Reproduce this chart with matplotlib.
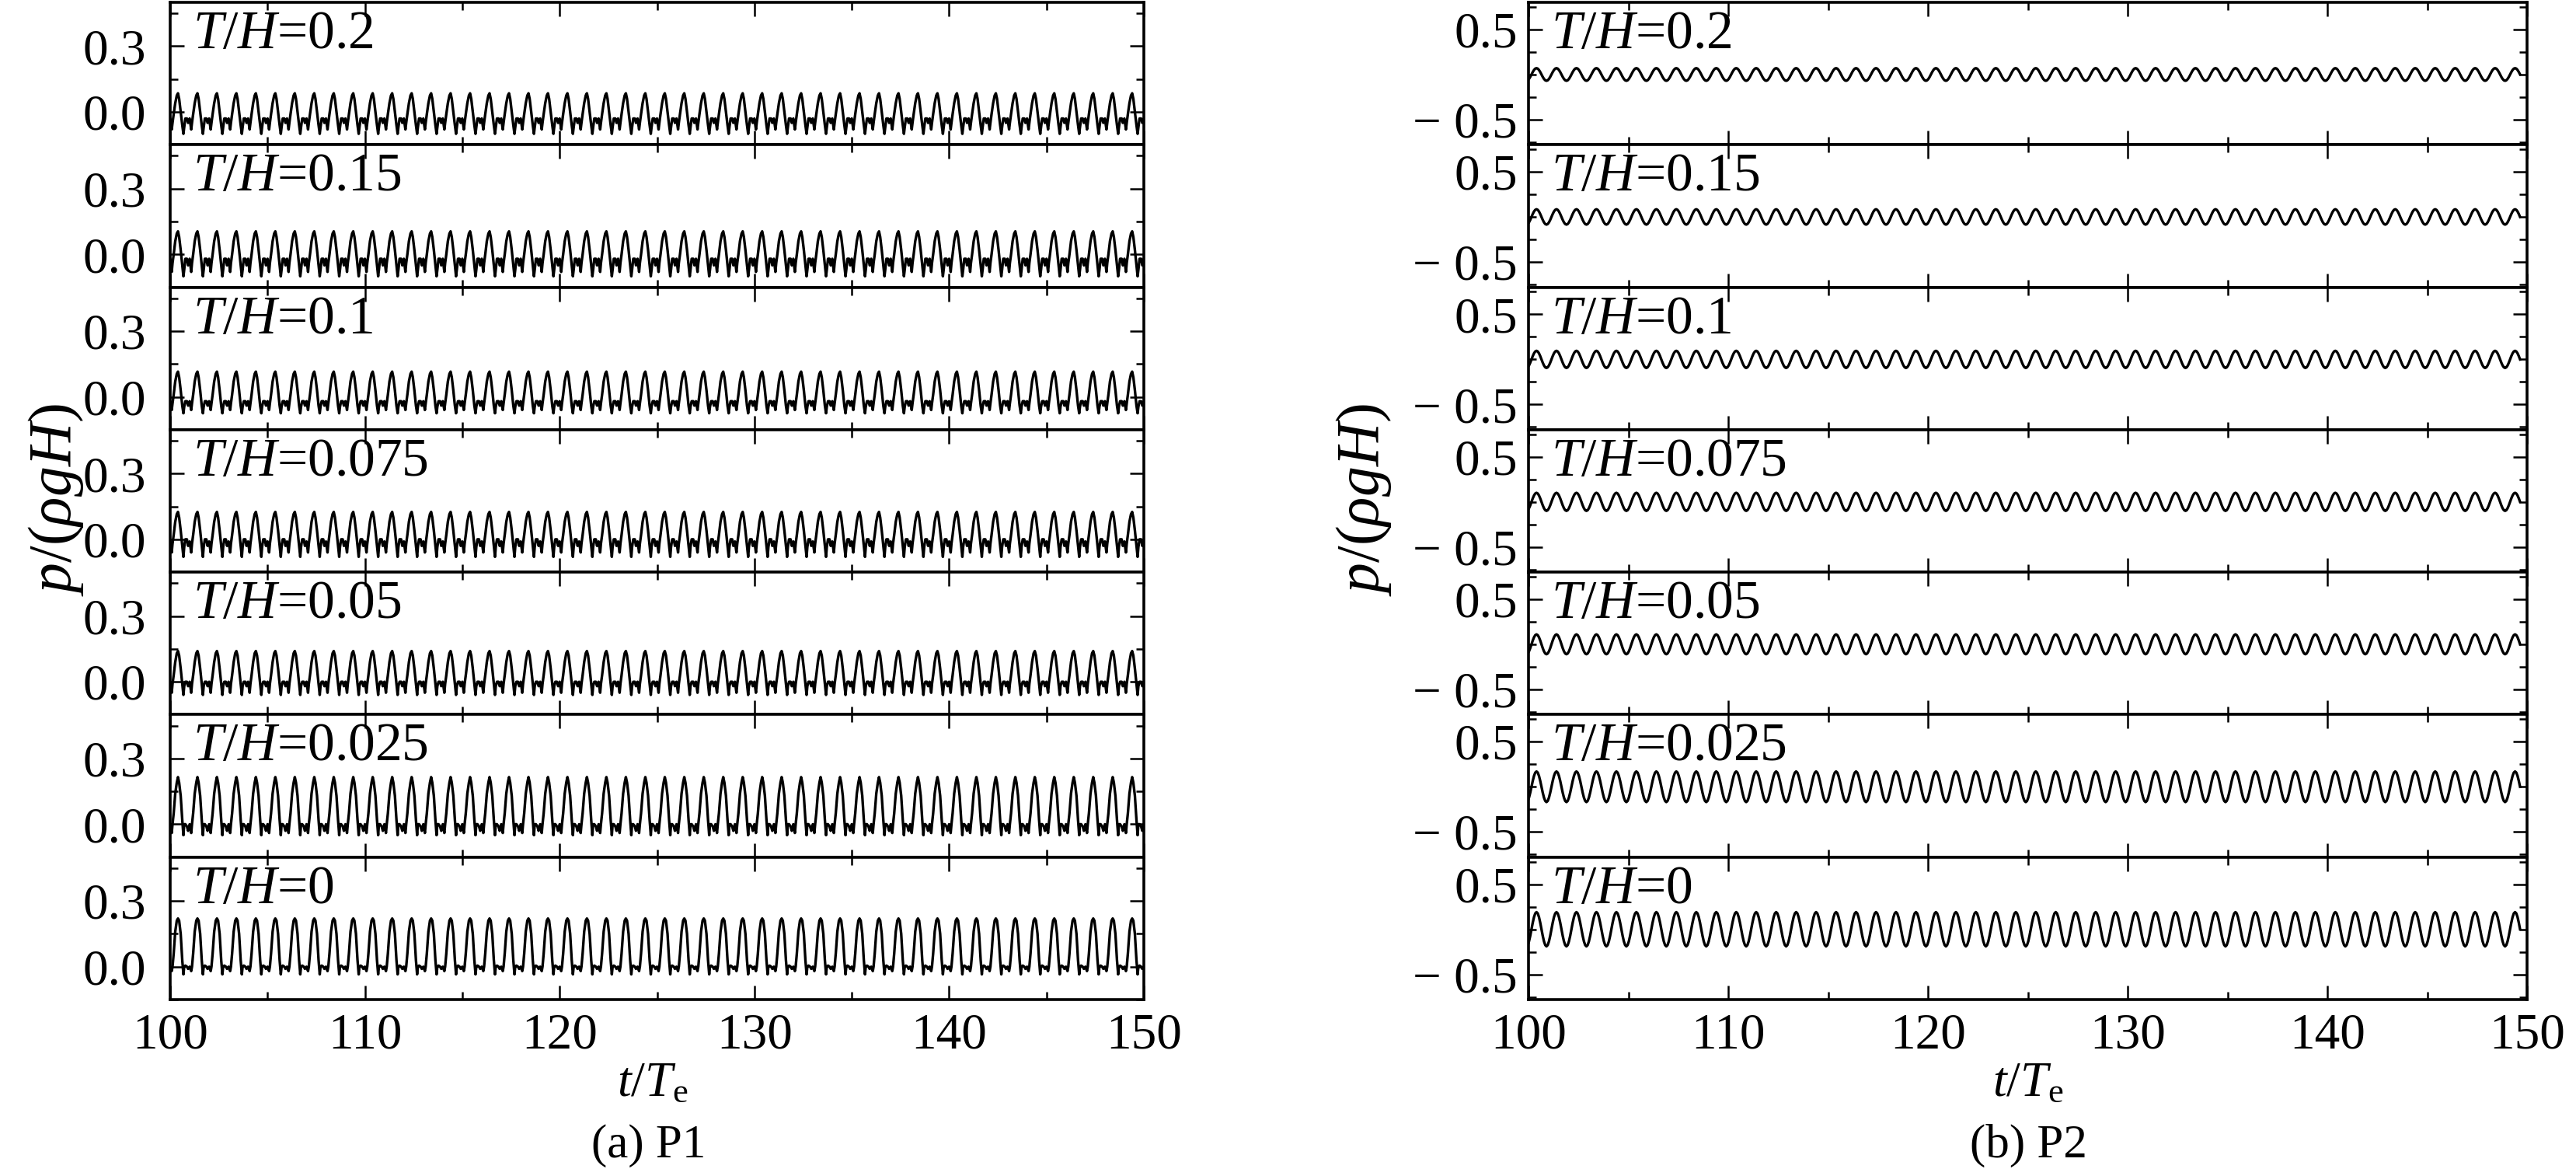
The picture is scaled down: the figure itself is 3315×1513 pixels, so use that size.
import matplotlib
matplotlib.use('Agg')
import matplotlib.pyplot as plt
import numpy as np

plt.rcParams['font.family'] = ['Liberation Serif', 'DejaVu Serif']
plt.rcParams['mathtext.fontset'] = 'custom'
plt.rcParams['mathtext.rm'] = 'Liberation Serif'
plt.rcParams['mathtext.it'] = 'Liberation Serif:italic'

# T/H cases, top to bottom
cases = ['0.2', '0.15', '0.1', '0.075', '0.05', '0.025', '0']

# P1: one period of the pressure trace (t/Te phase, p/(rho g H))
p1_phase = [0.00, 0.08, 0.12, 0.18, 0.26, 0.34, 0.40, 0.46, 0.54, 0.62, 0.68, 0.72, 0.78, 0.86, 0.92]
p1_cycle = {
    '0.2':   [-0.03, -0.08, -0.05, -0.01, 0.04, 0.075, 0.085, 0.06, 0.00, -0.06, -0.10, -0.07, -0.03, -0.03, -0.05],
    '0.15':  [-0.02, -0.08, -0.04, 0.00, 0.06, 0.095, 0.105, 0.08, 0.02, -0.05, -0.10, -0.07, -0.02, -0.02, -0.05],
    '0.1':   [-0.02, -0.06, -0.03, 0.01, 0.07, 0.105, 0.115, 0.09, 0.03, -0.04, -0.075, -0.045, -0.02, -0.02, -0.04],
    '0.075': [-0.01, -0.06, -0.02, 0.02, 0.08, 0.115, 0.125, 0.10, 0.04, -0.03, -0.08, -0.035, 0.00, 0.00, -0.03],
    '0.05':  [0.00, -0.05, -0.01, 0.03, 0.09, 0.13, 0.14, 0.12, 0.06, -0.01, -0.06, -0.02, 0.00, 0.00, -0.02],
    '0.025': [0.00, -0.04, 0.00, 0.05, 0.14, 0.19, 0.215, 0.19, 0.13, 0.02, -0.05, 0.00, 0.00, -0.01, -0.03],
    '0':     [0.00, -0.02, 0.00, 0.06, 0.16, 0.21, 0.22, 0.21, 0.15, 0.03, -0.035, 0.00, 0.005, 0.00, -0.01],
}

# P2: near-sinusoidal trace, one period shape and amplitude per case
p2_phase = [i / 16 for i in range(16)]
p2_shape = [0, 0.383, 0.707, 0.924, 1, 0.924, 0.707, 0.383, 0, -0.383, -0.707, -0.924, -1, -0.924, -0.707, -0.383]
p2_amp = {'0.2': 0.07, '0.15': 0.085, '0.1': 0.095, '0.075': 0.10, '0.05': 0.11, '0.025': 0.17, '0': 0.19}

t_start = 100
t_end = 150
p2_end = 149.7

W, H = 3316, 1513
fig = plt.figure(figsize=(W / 100, H / 100), dpi=100)

top_px = 3
bot_px = 1286
h_px = (bot_px - top_px) / 7
panels = [(219, 1253, 'P1'), (1967, 1285, 'P2')]

for x0, w, name in panels:
    for i, c in enumerate(cases):
        y_top = top_px + i * h_px
        ax = fig.add_axes([x0 / W, 1 - (y_top + h_px) / H, w / W, h_px / H])
        t = []
        v = []
        if name == 'P1':
            for k in range(t_start - 1, t_end + 1):
                for ph, val in zip(p1_phase, p1_cycle[c]):
                    t.append(k + ph)
                    v.append(val)
        else:
            for k in range(t_start - 1, t_end + 1):
                for ph, s in zip(p2_phase, p2_shape):
                    tt = k + ph + 0.15
                    if tt <= p2_end:
                        t.append(tt)
                        v.append(p2_amp[c] * s)
        ax.plot(t, v, color='black', lw=2.4)
        ax.set_xlim(t_start, t_end)
        if name == 'P1':
            ax.set_ylim(-0.15, 0.5)
            ax.set_yticks([0.0, 0.3])
            ax.set_yticklabels(['0.0', '0.3'])
            ax.set_yticks([-0.15, 0.15, 0.45], minor=True)
            ypad = 22
        else:
            ax.set_ylim(-0.78, 0.8)
            ax.set_yticks([-0.5, 0.5])
            ax.set_yticklabels(['\u2212 0.5', '0.5'])
            ax.set_yticks([-0.75, -0.25, 0, 0.25, 0.75], minor=True)
            ypad = 10
        ax.set_xticks(np.arange(100, 151, 10))
        ax.set_xticks(np.arange(105, 150, 10), minor=True)
        ax.tick_params(which='both', direction='in', top=True, right=True, width=1.8)
        ax.tick_params(which='major', length=13, labelsize=47)
        ax.tick_params(which='minor', length=7)
        ax.tick_params(axis='y', pad=ypad)
        ax.tick_params(axis='x', pad=12)
        if i < 6:
            ax.tick_params(axis='x', labelbottom=False)
        for sp in ax.spines.values():
            sp.set_linewidth(2.6)
        ax.text(29 / w, 1 - 59 / h_px, r'$T/H$=' + c, transform=ax.transAxes,
                fontsize=50, va='baseline', ha='left')

fig.text(72 / W, 0.575, r'$p/(\rho gH)$', rotation=90, fontsize=56, ha='center', va='center')
fig.text(1755 / W, 0.575, r'$p/(\rho gH)$', rotation=90, fontsize=56, ha='center', va='center')
fig.text(840 / W, 0.078, r'$t/T_{\rm e}$', fontsize=46, ha='center', va='center')
fig.text(2610 / W, 0.078, r'$t/T_{\rm e}$', fontsize=46, ha='center', va='center')
fig.text(835 / W, 0.026, '(a) P1', fontsize=44, ha='center', va='center')
fig.text(2610 / W, 0.026, '(b) P2', fontsize=44, ha='center', va='center')

fig.savefig('out.png', dpi=100)
